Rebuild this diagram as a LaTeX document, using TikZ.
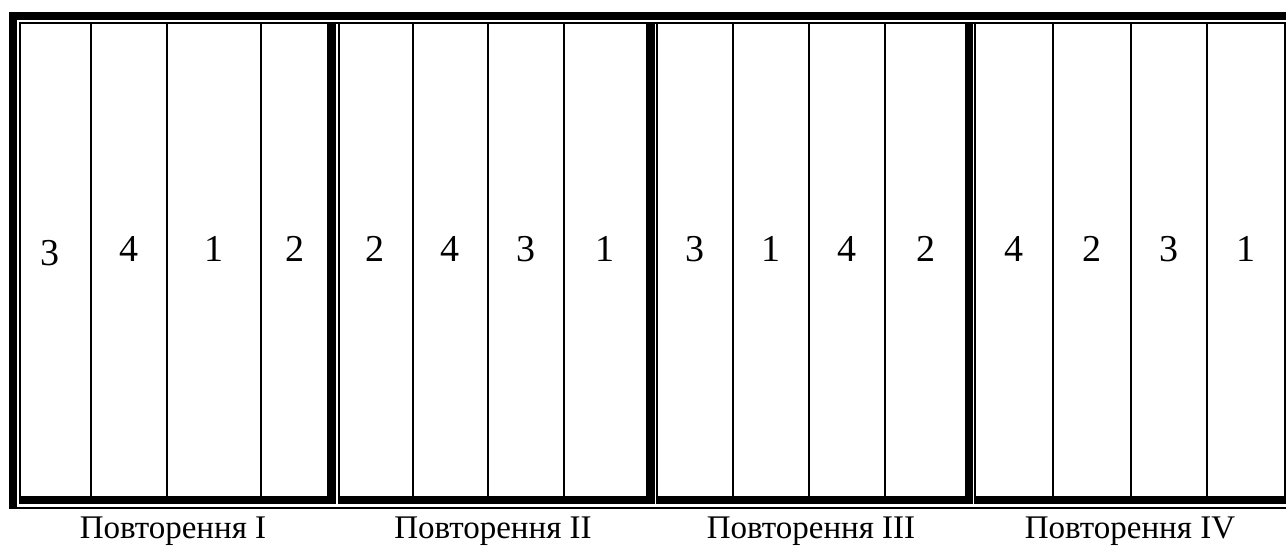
\documentclass[tikz,border=0pt]{standalone}
\usepackage{fontspec}
\setmainfont{Liberation Serif}
\begin{document}
\begin{tikzpicture}[x=1pt,y=-1pt,
  num/.style={anchor=base,inner sep=0pt,font=\fontsize{38}{44}\selectfont},
  lbl/.style={anchor=base,inner sep=0pt,font=\fontsize{33}{38}\selectfont},
  cellline/.style={line width=2pt}]
\useasboundingbox (0,0) rectangle (1286,556);
% outer frame
\fill (9,12) rectangle (1286,20.5);        % top thick
\fill (19,22) rectangle (1285.7,23.7);     % top thin
\fill (9,12) rectangle (16.7,508.5);       % left thick
\fill (18.7,22) rectangle (20.7,504);      % left thin
\fill (18.7,496) rectangle (1285.7,504);   % bottom thick
\fill (16.7,506.5) rectangle (1286,508.5); % bottom thin
\fill (1284,22) rectangle (1285.7,504);    % right thin
% group separators (thick + thin with white gap)
\foreach \a/\b/\c/\d in {327/336/337.7/339.7, 646/655/656/657.5, 965/973.3/974.3/976}{
  \fill (\a,22) rectangle (\b,504);
  \fill[white] (\b,23.7) rectangle (\c,504);
  \fill (\c,22) rectangle (\d,504);
}
% cell lines
\foreach \x in {91,167,261,412.7,488.3,564.3,733,809,885,1053,1131,1207}{
  \draw[cellline] (\x,23) -- (\x,496);
}
% numbers
\node[num] (a1) at (50,266) {3};
\node[num] (a2) at (129,262) {4};
\node[num] (a3) at (214,262) {1};
\node[num] (a4) at (295,262) {2};
\node[num] (b1) at (375,262) {2};
\node[num] (b2) at (450,262) {4};
\node[num] (b3) at (526,262) {3};
\node[num] (b4) at (605,262) {1};
\node[num] (c1) at (695,262) {3};
\node[num] (c2) at (771,262) {1};
\node[num] (c3) at (847,262) {4};
\node[num] (c4) at (926,262) {2};
\node[num] (d1) at (1014,262) {4};
\node[num] (d2) at (1092,262) {2};
\node[num] (d3) at (1169,262) {3};
\node[num] (d4) at (1246,262) {1};
% labels
\node[lbl] (l1) at (173,538) {Повторення I};
\node[lbl] (l2) at (493,538) {Повторення II};
\node[lbl] (l3) at (811,538) {Повторення III};
\node[lbl] (l4) at (1130,538) {Повторення IV};
\end{tikzpicture}
\end{document}
